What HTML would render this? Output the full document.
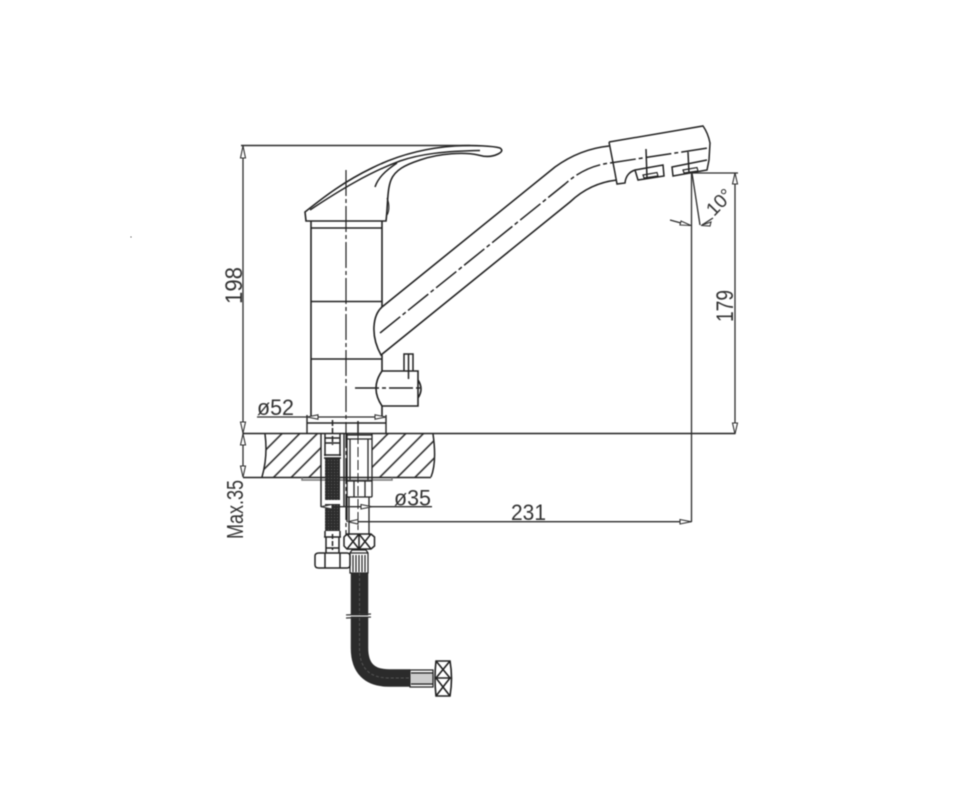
<!DOCTYPE html>
<html><head><meta charset="utf-8"><style>
html,body{margin:0;padding:0;background:#fff}
svg{display:block;filter:blur(0.5px)}
text{font-family:"Liberation Sans",sans-serif;fill:#333}
</style></head><body>
<svg width="960" height="800" viewBox="0 0 960 800" xmlns="http://www.w3.org/2000/svg">
<defs>
<pattern id="h" width="12.500" height="12.500" patternUnits="userSpaceOnUse" patternTransform="rotate(-45)">
<rect width="12.500" height="12.500" fill="#fff"/><line x1="0" y1="6" x2="12.500" y2="6" stroke="#222" stroke-width="1.500"/>
</pattern>
<pattern id="b" width="3" height="3" patternUnits="userSpaceOnUse">
<rect width="3" height="3" fill="#2b2b2b"/><circle cx="1.500" cy="1.500" r=".6" fill="#5a5a5a"/>
</pattern>
</defs>
<rect width="960" height="800" fill="#fff"/>
<rect x="130.500" y="236.500" width="1" height="1" fill="#333"/>
<g fill="none" stroke="#222" stroke-width="1.500">
<!-- hatch -->
<path d="M265,434 Q268,456 262,477 H321 V434 Z M372,434 V477 H431 Q437,462 433,434 Z" fill="url(#h)" stroke="none"/>
<path d="M265,434 Q268,456 262,477 M433,434 Q437,462 431,477"/>
<path d="M243,433.500 H735 M243,477.500 H431" />
<path d="M302,477.500 V480 H392 V477.500" stroke="#777"/>
<!-- handle -->
<path d="M305,212 C325,196 345,181 372,168 C398,155 425,148 455,146 C475,145 493,146 500,148 C503,150 502,152 498,154 C492,157 485,157 478,155 C465,152 440,153 420,160 C405,165 395,170 391,180 C387,190 388,205 386,221 H306 Z" stroke-width="1.600"/>
<path d="M310,210 C340,190 370,172 400,161 C420,154 445,151 480,150.500"/>
<path d="M375,187 C378,178 385,171 397,163"/>
<path d="M387,198 C390,205 389,212 387,215" stroke-width="1.100"/>
<!-- body -->
<path d="M311,221 V417 M382,221 V307 M382,355 V371 M382,406 V417" stroke-width="1.600"/>
<path d="M311,228 H382 M311,301.500 H382 M311,359 H382" stroke-width="1.600"/>
<!-- spout -->
<path d="M382,307 L555,167 Q580,149 609,146" stroke-width="1.600"/>
<path d="M382,307 C373,315 370,335 381,355 L570,202 Q590,183 617,180" stroke-width="1.600"/>
<path d="M380,333 L565,184 Q585,166 610,163 L708,148" stroke-dasharray="26 3 4 3"/>
<!-- head -->
<path d="M609,142 L703,126 Q708,133 710,143 L709,160 L707,170 L673,176 L672,167 L707,160 M609,142 L615,173 L617,184 L625,183 Q626,173 635,170 L663,165 L664,176 L638,180 L635,170" stroke-width="1.500"/>
<path d="M643,175 L657,172.500 L658,176 L644,178 Z M683,170 L697,167.500 L698,171 L684,173 Z" stroke-width="1.200"/>
<path d="M646,149 L647,178 M688,152 L689,173"/>
<!-- valve -->
<path d="M382,371 H418 V406 H382 M382,371 Q370,388 382,406 M418,380 Q424,389 418,398" stroke-width="1.600"/>
<path d="M404,371 V354 H413 V371 M408.500,354 V379"/>
<path d="M355,388 H420" stroke-dasharray="24 3 4 3"/>
<!-- flange -->
<path d="M307,415 V433.500 M386,415 V433.500 M307,423 H386" stroke-width="1.400"/>
<path d="M358,421 V433" />
<!-- center -->
<path d="M346,170 V536" stroke-dasharray="26 3 4 3" stroke-width="1.200"/>
<!-- left tube -->
<path d="M321,433 V507 M344,433 V507" stroke-width="1.400"/>
<path d="M325,434 V456 M340,434 V456 M325,438 H340 M325,443 H340 M324,455 H341 M324,458 H341" />
<path d="M325,531 V537 M340,531 V537 M326,537 V553 M339,537 V553 M324,537 H341 M326,548 H339"/>
<path d="M319,553 H347 Q350,553 350,556 V565 Q350,568 347,568 H319 Q315,568 315,565 V556 Q315,553 319,553 Z M325,553 V568 M340,553 V568" stroke-width="1.500"/>
<path d="M332.500,420 V445" stroke-dasharray="6 2"/>
<path d="M332.500,534 V550" stroke-dasharray="5 2"/>
<!-- right tube -->
<path d="M347,433 V522 M372,433 V497 M350,439 V480 M368,439 V480 M347,435 H372 M347,439 H372 M347,481 H372 M347,497 H372 M349,497 V535 M369,497 V535 M354,481 V497 M365,481 V497" stroke-width="1.300"/>
<path d="M358,421 V530" stroke-dasharray="10 3" stroke-width="1"/>
<!-- X nut -->
<path d="M347,534 H371 L374.500,537 V546 L371,549 H347 L344,546 V537 Z M359,534 V549 M347,534 L359,549 M359,534 L347,549 M359,534 L371,549 M371,534 L359,549" stroke-width="1.500"/>
<path d="M350,553 H368 V573 H350 Z M353,555 V572 M356,555 V572 M359,555 V572 M362,555 V572 M365,555 V572 M350,553 L352,550 H366 L368,553" stroke-width="1.200"/>
<!-- ferrule + end nut -->
<rect x="411" y="672" width="22" height="13" fill="#ccc" stroke="none"/>
<path d="M410,670 H433 V687 H410 Z M411,673 H433 M411,684 H433" stroke-width="1.200"/>
<path d="M436,661 H450 Q453,678 450,696 H436 Q434,678 436,661 Z M436,661 L450,678 M450,661 L436,678 M436,678 L450,696 M450,678 L436,696 M436,678 H451" stroke-width="1.600"/>
</g>
<!-- braids -->
<rect x="325" y="458" width="15" height="42" fill="url(#b)"/>
<rect x="325" y="504" width="15" height="27" fill="url(#b)"/>
<path d="M359.500,573 V648 Q359.500,678 389,678 H410" fill="none" stroke="#2b2b2b" stroke-width="17.500"/>
<path d="M359.500,573 V648 Q359.500,678 389,678 H410" fill="none" stroke="#555" stroke-width="1" stroke-dasharray="3 2"/>
<g fill="none" stroke="#333" stroke-width="1.300">
<path d="M346,615 L371,614 M346,618 L371,617" />
</g>
<path d="M346,615.500 H371 V616.500 H346 Z" fill="#fff"/>
<!-- dimensions -->
<g fill="none" stroke="#2c2c2c" stroke-width="1.300">
<path d="M241,145.500 H470" stroke-width="1.600"/>
<path d="M243,146 V477"/>
<path d="M257,417 H385"/>
<path d="M321,506.700 H432"/>
<path d="M348,521.700 H691.500"/>
<path d="M691.500,173 V522"/>
<path d="M688,173 H738"/>
<path d="M735,173 V434"/>
<path d="M692,173 L700,225"/>
<path d="M670,220 L690,225.500 M702,225 L713,218"/>
</g>
<g fill="#fff" stroke="#333" stroke-width="1.100">
<path d="M243,146 L240.500,158 H245.500 Z"/>
<path d="M243,433 L240.500,422 H245.500 Z"/>
<path d="M243,434 L240.500,445 H245.500 Z"/>
<path d="M243,477 L240.500,466 H245.500 Z"/>
<path d="M735,173 L732.500,184 H737.500 Z"/>
<path d="M735,434 L732.500,423 H737.500 Z"/>
<path d="M307,417 L318,414.800 V419.200 Z"/>
<path d="M386,417 L375,414.800 V419.200 Z"/>
<path d="M321,506.700 L332,504.500 V509 Z"/>
<path d="M372,506.700 L361,504.500 V509 Z"/>
<path d="M348,521.700 L358,519.500 V524 Z"/>
<path d="M691,521.700 L680,519.500 V524 Z"/>
<path d="M691,225.500 L681,221 L680,225 Z"/>
<path d="M701,225.500 L711,222 L710,226 Z"/>
</g>
<!-- labels -->
<text transform="translate(242,304) rotate(-90)" font-size="24" textLength="37" lengthAdjust="spacingAndGlyphs">198</text>
<text transform="translate(733,322) rotate(-90)" font-size="24" textLength="32" lengthAdjust="spacingAndGlyphs">179</text>
<text transform="translate(243,539) rotate(-90)" font-size="23" textLength="59" lengthAdjust="spacingAndGlyphs">Max.35</text>
<text x="257" y="415" font-size="22" textLength="37" lengthAdjust="spacingAndGlyphs">ø52</text>
<text x="394" y="505.500" font-size="22" textLength="37" lengthAdjust="spacingAndGlyphs">ø35</text>
<text x="511" y="520" font-size="22" textLength="35" lengthAdjust="spacingAndGlyphs">231</text>
<text transform="translate(714,217) rotate(-46)" font-size="19">10°</text>
</svg>
</body></html>
